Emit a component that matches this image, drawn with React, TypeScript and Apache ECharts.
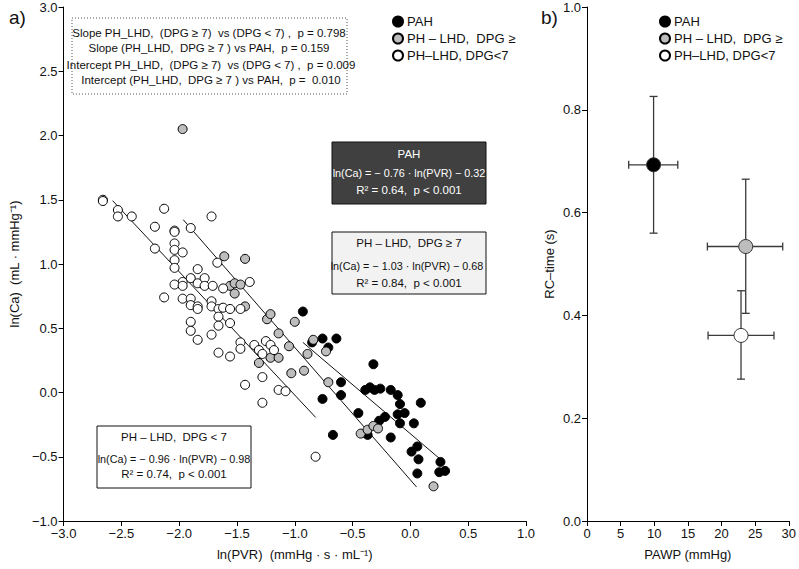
import React, { useEffect, useRef } from "react";
import * as echarts from "echarts";

// ---------- Panel a) data: ln(PVR) vs ln(Ca) ----------
const pahPoints: number[][] = [
  [-0.93, 0.63], [-0.85, 0.39], [-0.76, 0.42], [-0.64, 0.42], [-0.71, 0.35],
  [-0.32, 0.22], [-0.6, 0.08], [-0.6, -0.02], [-0.76, -0.05], [-0.67, -0.33],
  [-0.45, -0.16], [-0.39, 0.02], [-0.35, 0.04], [-0.31, 0.02], [-0.26, 0.03],
  [-0.17, 0.02], [-0.11, -0.02], [-0.09, -0.09], [-0.11, -0.17], [-0.05, -0.16],
  [-0.22, -0.19], [-0.27, -0.22], [-0.09, -0.24], [0.03, -0.24], [0.09, -0.08],
  [-0.37, -0.33], [-0.17, -0.35], [0.01, -0.46], [0.06, -0.42], [0.07, -0.52],
  [0.06, -0.63], [0.26, -0.54], [0.25, -0.62], [0.3, -0.61],
];
const dpgHighPoints: number[][] = [
  [-1.97, 2.05],
  [-1.61, 1.06], [-1.43, 1.04],
  [-1.56, 0.83], [-1.52, 0.85], [-1.47, 0.84], [-1.52, 0.77], [-1.43, 0.67],
  [-1.24, 0.57], [-1.21, 0.61], [-1.0, 0.55], [-1.14, 0.46], [-1.05, 0.36],
  [-1.21, 0.27], [-1.14, 0.27], [-1.31, 0.23], [-0.89, 0.3], [-0.84, 0.41], [-0.73, 0.32],
  [-1.03, 0.15], [-0.92, 0.17], [-0.71, 0.08],
  [-0.43, -0.32], [-0.37, -0.29], [-0.32, -0.26], [-0.28, -0.28],
  [0.2, -0.73],
];
const dpgLowPoints: number[][] = [
  [-2.66, 1.5], [-2.66, 1.49],
  [-2.53, 1.42], [-2.53, 1.37], [-2.41, 1.37],
  [-2.13, 1.43], [-2.21, 1.29], [-1.72, 1.37],
  [-2.04, 1.26], [-2.04, 1.25], [-1.9, 1.28],
  [-2.21, 1.12], [-2.04, 1.16], [-2.04, 1.11], [-1.97, 1.09],
  [-2.04, 1.03], [-2.04, 0.97], [-1.67, 1.01],
  [-1.84, 0.96], [-1.9, 0.89], [-1.97, 0.86], [-1.84, 0.85], [-1.78, 0.89], [-1.78, 0.83], [-1.71, 0.83],
  [-2.04, 0.84], [-1.97, 0.83], [-2.13, 0.74], [-1.97, 0.73], [-1.9, 0.73], [-1.9, 0.68], [-1.84, 0.67], [-1.84, 0.65],
  [-1.72, 0.71], [-1.72, 0.67], [-1.66, 0.65], [-1.62, 0.81], [-1.62, 0.66], [-1.56, 0.65], [-1.47, 0.65], [-1.39, 0.86],
  [-1.66, 0.59], [-1.66, 0.52], [-1.56, 0.54], [-1.9, 0.55], [-1.9, 0.48], [-1.84, 0.41], [-1.72, 0.45],
  [-1.66, 0.31], [-1.56, 0.28], [-1.47, 0.39], [-1.47, 0.34], [-1.35, 0.37], [-1.31, 0.33], [-1.28, 0.3],
  [-1.25, 0.4], [-1.21, 0.37], [-1.18, 0.33],
  [-1.28, 0.12], [-1.43, 0.06], [-1.14, 0.02], [-1.08, 0.01], [-1.28, -0.08], [-0.82, -0.5],
];

// regression line end points
const pahFit: number[][] = [[-0.93, 0.39], [0.26, -0.52]];
const dpgHighFit: number[][] = [[-1.965, 1.345], [0.053, -0.735]];
const dpgLowFit: number[][] = [[-2.576, 1.493], [-0.819, -0.194]];

// ---------- Panel b) data: PAWP vs RC-time (mean, error ranges) ----------
const rcGroups = ["PAH", "PH – LHD,  DPG ≥", "PH–LHD, DPG<7"];
const pawpMean = [9.9, 23.6, 22.9];
const pawpLow = [6.2, 17.9, 18.0];
const pawpHigh = [13.5, 29.1, 27.8];
const rcMean = [0.693, 0.534, 0.361];
const rcLow = [0.56, 0.404, 0.276];
const rcHigh = [0.826, 0.665, 0.448];

// ---------- tick settings ----------
const xTicksA = { min: -3, max: 1, interval: 0.5 };
const yTicksA = { min: -1, max: 3, interval: 0.5 };
const xTicksB = { min: 0, max: 30, interval: 5 };
const yTicksB = { min: 0, max: 1, interval: 0.2 };

const seriesNames = ["PAH", "PH – LHD,  DPG ≥", "PH–LHD, DPG<7"];
const fills = ["#000000", "#bdbdbd", "#ffffff"];

const FONT = '"Liberation Sans", Arial, Helvetica, sans-serif';

export default function App() {
  const ref = useRef<HTMLDivElement>(null);

  useEffect(() => {
    document.body.style.margin = "0";
    if (!ref.current) return;
    const chart = echarts.init(ref.current, undefined, { renderer: "svg" });

    const fmt1 = (v: number) => v.toFixed(1).replace("-", "\u2212");

    const axisCommon = {
      axisLine: { show: true, onZero: false, lineStyle: { color: "#000", width: 1 } },
      axisTick: { show: true, inside: false, length: 5, lineStyle: { color: "#000" } },
      splitLine: { show: false },
      axisLabel: { color: "#111", fontSize: 13, fontFamily: FONT, margin: 6 },
      nameTextStyle: { color: "#111", fontSize: 13, fontFamily: FONT },
    };

    const scatterStyle = (i: number) => ({
      color: fills[i],
      borderColor: "#000",
      borderWidth: 1,
      opacity: 1,
    });

    const errData = rcGroups.map((_, i) => [
      pawpMean[i], rcMean[i], pawpLow[i], pawpHigh[i], rcLow[i], rcHigh[i],
    ]);

    const boxText = (x: number, y: number, text: string, fill: string, size = 11.5) => ({
      type: "text",
      x,
      y,
      z: 100,
      style: {
        text,
        fill,
        fontSize: size,
        fontFamily: FONT,
        align: "center",
        verticalAlign: "middle",
        textAlign: "center",
        textVerticalAlign: "middle",
      },
    });

    const option: any = {
      animation: false,
      backgroundColor: "#ffffff",
      textStyle: { fontFamily: FONT },
      grid: [
        { left: 57, top: 7, width: 469, height: 514 },
        { left: 587, top: 7, width: 204, height: 514 },
      ],
      xAxis: [
        {
          ...axisCommon,
          gridIndex: 0,
          type: "value",
          ...xTicksA,
          axisLabel: { ...axisCommon.axisLabel, formatter: fmt1 },
          name: "ln(PVR)  (mmHg · s · mL\u207B\u00B9)",
          nameLocation: "middle",
          nameGap: 27,
        },
        {
          ...axisCommon,
          gridIndex: 1,
          type: "value",
          ...xTicksB,
          name: "PAWP (mmHg)",
          nameLocation: "middle",
          nameGap: 27,
        },
      ],
      yAxis: [
        {
          ...axisCommon,
          gridIndex: 0,
          type: "value",
          ...yTicksA,
          axisLabel: { ...axisCommon.axisLabel, formatter: fmt1 },
          name: "ln(Ca)  (mL · mmHg\u207B\u00B9)",
          nameLocation: "middle",
          nameGap: 38,
        },
        {
          ...axisCommon,
          gridIndex: 1,
          type: "value",
          ...yTicksB,
          axisLabel: { ...axisCommon.axisLabel, formatter: fmt1 },
          name: "RC\u2013time (s)",
          nameLocation: "middle",
          nameGap: 31,
        },
      ],
      legend: [
        {
          orient: "vertical",
          left: 387,
          top: 10,
          icon: "circle",
          itemWidth: 10,
          itemHeight: 10,
          itemGap: 4,
          data: seriesNames,
          textStyle: { color: "#111", fontSize: 13, fontFamily: FONT, padding: [0, 0, 0, -1] },
          selectedMode: false,
        },
        {
          orient: "vertical",
          left: 654,
          top: 10,
          icon: "circle",
          itemWidth: 10,
          itemHeight: 10,
          itemGap: 4,
          data: seriesNames,
          textStyle: { color: "#111", fontSize: 13, fontFamily: FONT, padding: [0, 0, 0, -1] },
          selectedMode: false,
        },
      ],
      series: [
        // regression lines
        ...[pahFit, dpgHighFit, dpgLowFit].map((d) => ({
          type: "line",
          xAxisIndex: 0,
          yAxisIndex: 0,
          data: d,
          symbol: "none",
          lineStyle: { color: "#111", width: 1 },
          z: 1,
          silent: true,
        })),
        {
          name: seriesNames[0],
          type: "scatter",
          xAxisIndex: 0,
          yAxisIndex: 0,
          data: pahPoints,
          symbol: "circle",
          symbolSize: 9,
          itemStyle: scatterStyle(0),
          z: 3,
        },
        {
          name: seriesNames[1],
          type: "scatter",
          xAxisIndex: 0,
          yAxisIndex: 0,
          data: dpgHighPoints,
          symbol: "circle",
          symbolSize: 9,
          itemStyle: scatterStyle(1),
          z: 4,
        },
        {
          name: seriesNames[2],
          type: "scatter",
          xAxisIndex: 0,
          yAxisIndex: 0,
          data: dpgLowPoints,
          symbol: "circle",
          symbolSize: 9,
          itemStyle: scatterStyle(2),
          z: 5,
        },
        // error bars panel b
        {
          type: "custom",
          xAxisIndex: 1,
          yAxisIndex: 1,
          data: errData,
          z: 2,
          silent: true,
          renderItem: (params: any, api: any) => {
            const c = api.coord([api.value(0), api.value(1)]);
            const xl = api.coord([api.value(2), api.value(1)]);
            const xh = api.coord([api.value(3), api.value(1)]);
            const yl = api.coord([api.value(0), api.value(4)]);
            const yh = api.coord([api.value(0), api.value(5)]);
            const cap = 4;
            const st = { stroke: "#3a3a3a", lineWidth: 1.3 };
            const ln = (x1: number, y1: number, x2: number, y2: number) => ({
              type: "line",
              shape: { x1, y1, x2, y2 },
              style: st,
            });
            return {
              type: "group",
              children: [
                ln(xl[0], c[1], xh[0], c[1]),
                ln(xl[0], c[1] - cap, xl[0], c[1] + cap),
                ln(xh[0], c[1] - cap, xh[0], c[1] + cap),
                ln(c[0], yl[1], c[0], yh[1]),
                ln(c[0] - cap, yl[1], c[0] + cap, yl[1]),
                ln(c[0] - cap, yh[1], c[0] + cap, yh[1]),
              ],
            };
          },
        },
        ...rcGroups.map((g, i) => ({
          name: seriesNames[i],
          type: "scatter",
          xAxisIndex: 1,
          yAxisIndex: 1,
          data: [[pawpMean[i], rcMean[i]]],
          symbol: "circle",
          symbolSize: 14,
          itemStyle: { ...scatterStyle(i), borderColor: "#333" },
          z: 6,
        })),
      ],
      graphic: [
        // panel labels
        {
          type: "text",
          x: 9,
          y: 8,
          style: { text: "a)", fill: "#111", fontSize: 19, fontFamily: FONT },
        },
        {
          type: "text",
          x: 541,
          y: 8,
          style: { text: "b)", fill: "#111", fontSize: 19, fontFamily: FONT },
        },
        // dotted stats box
        {
          type: "rect",
          shape: { x: 72, y: 18, width: 275, height: 76 },
          style: { fill: "none", stroke: "#555", lineWidth: 1, lineDash: [1, 2] },
          z: 50,
        },
        boxText(209, 33, "Slope PH_LHD,  (DPG \u2265 7)  vs (DPG < 7) ,  p = 0.798", "#111"),
        boxText(209, 48, "Slope (PH_LHD,  DPG \u2265 7 ) vs PAH,  p = 0.159", "#111"),
        boxText(211, 65, "Intercept PH_LHD,  (DPG \u2265 7)  vs (DPG < 7) ,  p = 0.009", "#111"),
        boxText(211, 80, "Intercept (PH_LHD,  DPG \u2265 7 ) vs PAH,  p =  0.010", "#111"),
        // PAH box
        {
          type: "rect",
          shape: { x: 332, y: 142, width: 154, height: 62 },
          style: { fill: "#404040", stroke: "#111", lineWidth: 1 },
          z: 60,
        },
        boxText(409, 154, "PAH", "#ffffff", 11.5),
        boxText(409, 173, "ln(Ca) = \u2212 0.76 \u00B7 ln(PVR) \u2212 0.32", "#ffffff", 10.8),
        boxText(409, 190, "R\u00B2 = 0.64,  p < 0.001", "#ffffff", 11.5),
        // DPG >= 7 box
        {
          type: "rect",
          shape: { x: 332, y: 232, width: 154, height: 62 },
          style: { fill: "#f2f2f2", stroke: "#111", lineWidth: 1 },
          z: 60,
        },
        boxText(409, 243, "PH \u2013 LHD,  DPG \u2265 7", "#111", 11.5),
        boxText(407, 266, "ln(Ca) = \u2212 1.03 \u00B7 ln(PVR) \u2212 0.68", "#111", 10.8),
        boxText(409, 283, "R\u00B2 = 0.84,  p < 0.001", "#111", 11.5),
        // DPG < 7 box
        {
          type: "rect",
          shape: { x: 97, y: 426, width: 154, height: 62 },
          style: { fill: "#ffffff", stroke: "#111", lineWidth: 1 },
          z: 60,
        },
        boxText(174, 437, "PH \u2013 LHD,  DPG < 7", "#111", 11.5),
        boxText(174, 459, "ln(Ca) = \u2212 0.96 \u00B7 ln(PVR) \u2212 0.98", "#111", 10.8),
        boxText(174, 474, "R\u00B2 = 0.74,  p < 0.001", "#111", 11.5),
      ],
    };

    chart.setOption(option);
    return () => chart.dispose();
  }, []);

  return (
    <div
      ref={ref}
      style={{ position: "absolute", left: 0, top: 0, width: 799, height: 569, background: "#fff" }}
    />
  );
}
